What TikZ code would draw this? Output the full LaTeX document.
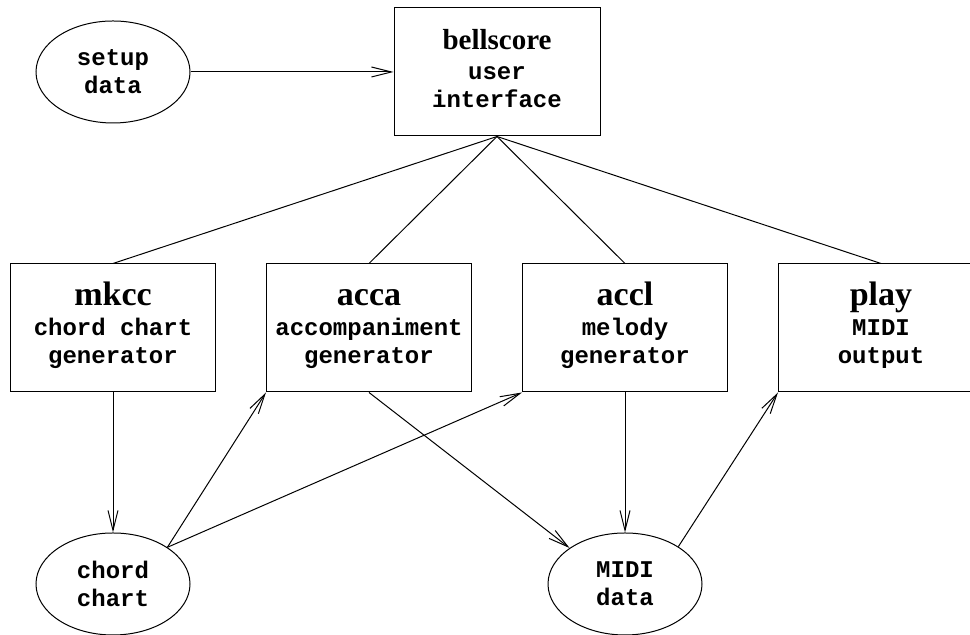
\documentclass[tikz,border=0pt]{standalone}
\usepackage{fontspec}
\newfontfamily\progfont{Liberation Serif}
\newfontfamily\descfont{Liberation Mono}
\usetikzlibrary{arrows.meta,shapes.geometric}

\newcommand{\progname}[2][17]{{\progfont\bfseries\fontsize{#1}{15}\selectfont
  \rule{0pt}{12pt}#2}}

\begin{document}
\begin{tikzpicture}[x=50pt,y=50pt,
      >={Straight Barb[length=10pt,width=5pt]},
      prog/.style={draw=black,line width=0.5pt,minimum width=102.5pt,
        minimum height=64pt,inner sep=0pt,align=center,
        font=\descfont\bfseries\fontsize{12}{14}\selectfont,
        execute at end node={\rule[-5pt]{0pt}{5pt}}},
      store/.style={draw=black,ellipse,line width=0.5pt,minimum width=77pt,
        minimum height=51pt,inner sep=0pt,align=center,
        font=\descfont\bfseries\fontsize{12}{14}\selectfont},
      flow/.style={draw=black,line width=0.5pt,->},
      link/.style={draw=black,line width=0.5pt}
    ]
    \useasboundingbox (0,0) rectangle (9.7,6.35);
    % data files
    \node[store] (S) at (1.13,5.63) {setup\\data};
    \node[store] (C) at (1.13,0.51) {chord\\chart};
    \node[store] (D) at (6.25,0.51) {MIDI\\data};
    % programs
    \node[prog,minimum width=103pt] (B) at (4.97,5.63)
      {\progname[14.5]{bellscore}\\[1pt]user\\interface};
    \node[prog] (M) at (1.13,3.07)
      {\progname{mkcc}\\[1pt]chord chart\\generator};
    \node[prog] (A) at (3.69,3.07)
      {\progname{acca}\\[1pt]accompaniment\\generator};
    \node[prog] (L) at (6.25,3.07)
      {\progname{accl}\\[1pt]melody\\generator};
    \node[prog] (P) at (8.81,3.07)
      {\progname{play}\\[1pt]MIDI\\output};
    \draw[flow] (S) -- (B);
    \draw[link] (B.south) -- (M.north);
    \draw[link] (B.south) -- (A.north);
    \draw[link] (B.south) -- (L.north);
    \draw[link] (B.south) -- (P.north);
    \draw[flow] (M) -- (C);
    \draw[flow] (C.34) -- (A.south west);
    \draw[flow] (C.34) -- (L.south west);
    \draw[flow] (A.south) -- (D.147);
    \draw[flow] (L) -- (D);
    \draw[flow] (D.35) -- (P.south west);
  \end{tikzpicture}
\end{document}
